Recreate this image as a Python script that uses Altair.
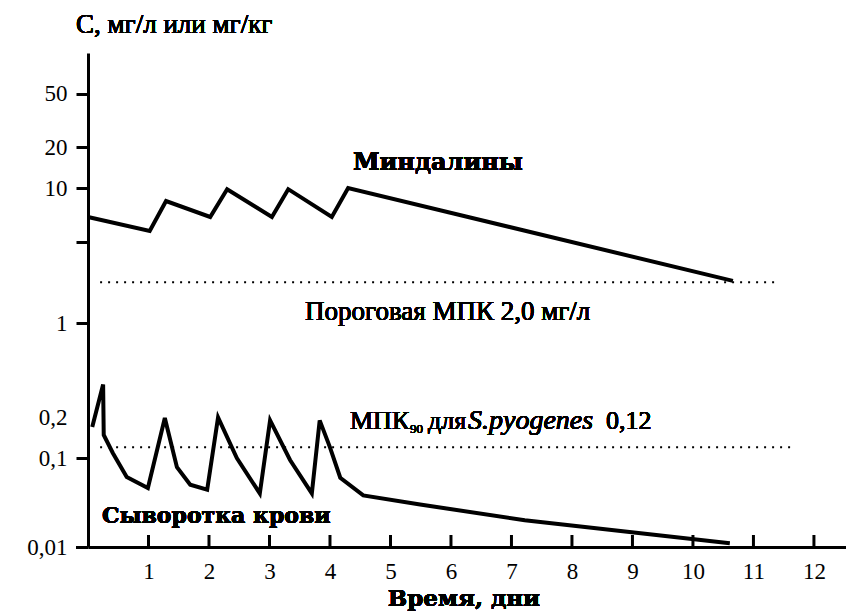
import altair as alt
import pandas as pd

# ---- data ----
tonsil_day = [0.0, 1.02, 1.29, 2.02, 2.30, 3.04, 3.31, 4.03, 4.30, 10.66]
tonsil_conc = [6.1, 4.8, 8.0, 6.1, 9.8, 6.1, 9.8, 6.1, 10.0, 2.05]

serum_day = [0.07, 0.25, 0.26, 0.41, 0.64, 0.99, 1.27, 1.47, 1.69, 1.97, 2.15,
             2.46, 2.84, 3.01, 3.34, 3.70, 3.83, 4.00, 4.17, 4.55, 5.49, 7.22, 10.61]
serum_conc = [0.17, 0.35, 0.148, 0.109, 0.061, 0.046, 0.198, 0.079, 0.050, 0.044, 0.20,
              0.10, 0.040, 0.19, 0.095, 0.040, 0.19, 0.12, 0.060, 0.038, 0.030, 0.020, 0.011]

mic_value = [2.0, 0.12]
mic_start = [0.2, 0.2]
mic_end = [11.35, 11.7]

x_ticks = list(range(1, 13))
y_ticks = [0.01, 0.1, 0.2, 1, 4, 10, 20, 50]

W, H = 758, 494
SERIF = "Liberation Serif, Times New Roman, serif"
BOLD = "DejaVu Serif"

tonsil = pd.DataFrame({"day": tonsil_day, "conc": tonsil_conc})
serum = pd.DataFrame({"day": serum_day, "conc": serum_conc})
mic = pd.DataFrame({"start": mic_start, "end": mic_end, "conc": mic_value})
xt = pd.DataFrame({"day": x_ticks})

xscale = alt.Scale(domain=[0, 12.53], nice=False, zero=False)
yscale = alt.Scale(type="log", domain=[0.01, 0.1, 100], range=[H, 405, 0], nice=False)

x_axis = alt.Axis(values=x_ticks, format="d", tickSize=0, labelFont=SERIF, labelFontSize=23,
                  labelColor="black", labelPadding=13, domainColor="black",
                  domainWidth=3, grid=False, title=None, labelFlush=False)
y_axis = alt.Axis(values=y_ticks,
                  labelExpr="datum.value == 4 ? '' : replace(toString(datum.value), '.', ',')",
                  tickSize=12, tickWidth=3,
                  tickColor={"condition": {"test": "datum.value === 0.2", "value": "transparent"},
                             "value": "black"},
                  labelFont=SERIF, labelFontSize=23, labelColor="black", labelPadding=9,
                  domainColor="black", domainWidth=3, grid=False, title=None)

lines_t = alt.Chart(tonsil).mark_line(color="black", strokeWidth=4, strokeJoin="miter").encode(
    x=alt.X("day:Q", scale=xscale, axis=x_axis),
    y=alt.Y("conc:Q", scale=yscale, axis=y_axis),
    order="day:Q",
)
lines_s = alt.Chart(serum).mark_line(color="black", strokeWidth=4, strokeJoin="miter").encode(
    x=alt.X("day:Q", scale=xscale),
    y=alt.Y("conc:Q", scale=yscale),
    order="day:Q",
)
mic_rules = alt.Chart(mic).mark_rule(color="black", strokeWidth=2, strokeDash=[2, 6]).encode(
    x=alt.X("start:Q", scale=xscale),
    x2="end:Q",
    y=alt.Y("conc:Q", scale=yscale),
)
xtick_rules = alt.Chart(xt).mark_rule(color="black", strokeWidth=3).encode(
    x=alt.X("day:Q", scale=xscale),
    y=alt.value(H - 12),
    y2=alt.value(H),
)
axis_ext = alt.Chart(xt).mark_rule(color="black", strokeWidth=3).encode(
    x=alt.value(-12), x2=alt.value(0), y=alt.value(H + 0.5)
)


def txt(s, x, y, size, font=SERIF, weight="normal", style="normal", align="left"):
    return alt.Chart(xt).mark_text(
        font=font, fontSize=size, fontWeight=weight, fontStyle=style,
        align=align, baseline="alphabetic", color="black"
    ).encode(x=alt.value(x), y=alt.value(y), text=alt.value(s))


texts = [
    txt("С, мг/л или мг/кг", -12, -20, 27),
    txt("Миндалины", 265, 117, 24, font=BOLD, weight="bold"),
    txt("Пороговая МПК 2,0 мг/л", 217, 267, 27),
    txt("МПК", 262, 376, 26),
    txt("90", 322, 380, 13),
    txt("для", 340, 376, 26),
    txt("S.pyogenes", 380, 376, 28, style="italic"),
    txt("0,12", 518, 376, 26),
    txt("Сыворотка крови", 14, 470, 22, font=BOLD, weight="bold"),
    txt("Время, дни", 376, 553, 23, font=BOLD, weight="bold", align="center"),
]

chart = alt.layer(lines_t, lines_s, mic_rules, xtick_rules, axis_ext, *texts).properties(
    width=W, height=H,
    autosize=alt.AutoSizeParams(type="none"),
    padding={"left": 88, "top": 53, "right": 0, "bottom": 67},
    background="white",
).configure_view(stroke=None)

chart.save("out.html", embed_options={"renderer": "svg", "actions": False})
